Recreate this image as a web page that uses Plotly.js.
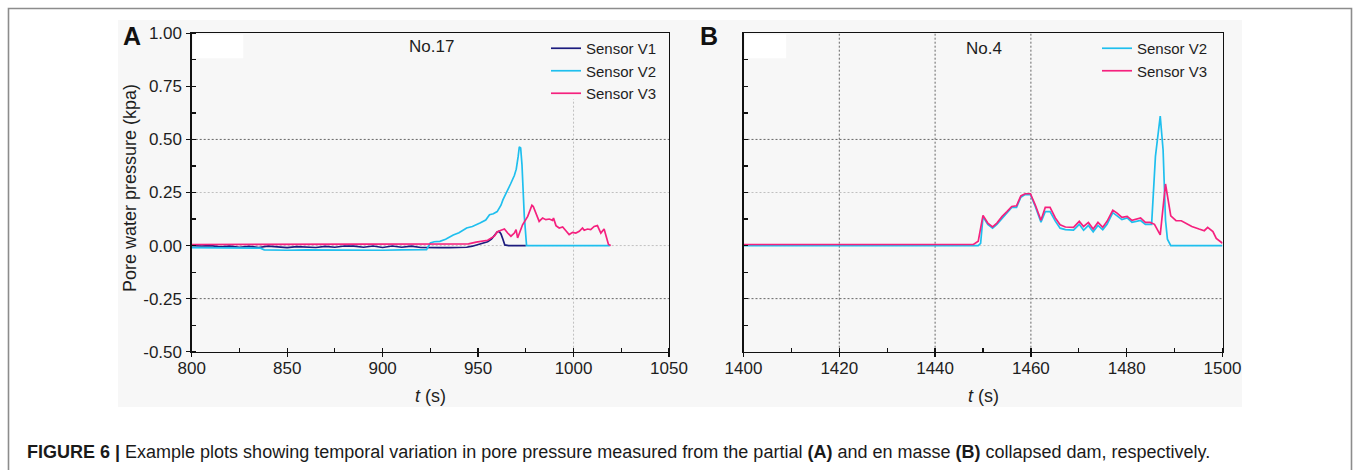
<!DOCTYPE html>
<html><head><meta charset="utf-8">
<script src="https://cdn.plot.ly/plotly-3.0.1.min.js"></script>
<style>html,body{margin:0;padding:0;background:#fff}#chart{width:1354px;height:470px}</style>
</head><body><div id="chart"></div>
<script>
// ---------- Panel A (No.17) ----------
const tA_V1 = [800,805,810,815,820,825,830,835,840,845,850,855,860,865,870,875,880,885,890,895,900,905,910,915,920,925,930,935,940,944,947,950,953,955,957,958.5,960,961,962,963,964,966,970,975];
const pA_V1 = [0,-0.002,0,-0.006,-0.003,-0.008,-0.004,-0.009,-0.003,-0.008,-0.01,-0.005,-0.008,-0.009,-0.004,-0.008,-0.002,-0.003,-0.008,-0.002,-0.009,-0.002,-0.008,-0.003,-0.009,-0.008,-0.01,-0.01,-0.01,-0.008,-0.003,0.005,0.012,0.018,0.03,0.045,0.064,0.067,0.055,0.03,0.003,0,0,0];

const tA_V2 = [800,810,820,830,836,838,850,860,870,880,890,900,910,920,923,925,927,930,933,937,940,944,947,951,954,956,958,960,962,963,965,967,969,970,971,971.6,972.3,973,974.2,975.4,980,990,1000,1010,1019];
const pA_V2 = [-0.01,-0.01,-0.011,-0.01,-0.012,-0.02,-0.022,-0.02,-0.021,-0.02,-0.022,-0.022,-0.02,-0.021,-0.019,0.012,0.018,0.02,0.03,0.05,0.06,0.083,0.09,0.106,0.12,0.145,0.15,0.16,0.19,0.215,0.25,0.29,0.33,0.36,0.42,0.465,0.46,0.38,0.14,0,0,0,0,0,0];

const tA_V3 = [800,850,900,940,945,949,952,955,958.5,960,962,963.8,965.5,967.2,969,969.9,970.7,972,973.3,976,978.2,978.9,980.3,982,983.8,985.5,987.3,989,989.5,990.8,992.5,994.3,996,997.7,999.5,1001.2,1003,1004.7,1005.6,1007.3,1009,1010.8,1012.5,1014.3,1016,1016.9,1018.3,1019.5];
const pA_V3 = [0.005,0.005,0.005,0.006,0.008,0.016,0.02,0.025,0.044,0.064,0.072,0.078,0.059,0.044,0.059,0.075,0.036,0.067,0.098,0.1375,0.19,0.184,0.153,0.114,0.13,0.122,0.125,0.119,0.13,0.094,0.083,0.0875,0.07,0.052,0.0625,0.059,0.067,0.083,0.072,0.078,0.075,0.09,0.094,0.059,0.078,0.044,0.005,0];

// ---------- Panel B (No.4) ----------
const tB_V2 = [1400,1449,1449.5,1450,1451,1452,1452.9,1454,1455,1456,1457,1457.9,1458.8,1459.9,1460.9,1462.1,1463,1464,1465.1,1466.1,1467.2,1468.9,1470.1,1471,1472,1473,1474,1475,1475.9,1477.1,1478,1479,1480.1,1481.1,1482.9,1483.9,1484.9,1485.2,1486,1487,1487.6,1488.1,1488.5,1489.2,1500];
const pB_V2 = [0,0,0.01,0.135,0.1,0.082,0.1,0.13,0.155,0.18,0.18,0.228,0.24,0.24,0.185,0.11,0.16,0.16,0.115,0.082,0.075,0.073,0.1,0.072,0.095,0.065,0.095,0.075,0.1,0.155,0.14,0.122,0.13,0.11,0.118,0.1,0.1,0.1,0.42,0.61,0.45,0.12,0.03,0,0];

const tB_V3 = [1400,1448,1449,1450,1451,1452,1452.9,1454,1455,1456,1457,1457.9,1458.8,1459.9,1460.9,1462.1,1463,1464,1465.1,1466.1,1467.2,1468.9,1470.1,1471,1472,1473,1474,1475,1475.9,1477.1,1478,1479,1480.1,1481.1,1482.9,1483.9,1484.9,1485.8,1487,1488.1,1489.2,1490.3,1491.4,1492.5,1493.6,1495.1,1496.2,1496.9,1498,1498.7,1499.5,1500];
const pB_V3 = [0.005,0.005,0.02,0.142,0.106,0.0875,0.106,0.1375,0.16,0.184,0.1875,0.234,0.244,0.244,0.192,0.119,0.18,0.18,0.13,0.098,0.0875,0.086,0.114,0.09,0.109,0.078,0.109,0.086,0.114,0.166,0.153,0.133,0.1375,0.119,0.13,0.109,0.109,0.1,0.05,0.29,0.14,0.117,0.117,0.105,0.09,0.078,0.07,0.086,0.066,0.034,0.019,0.011];

// ticks / labels
const xTicksA = [800,850,900,950,1000,1050];
const xTicksB = [1400,1420,1440,1460,1480,1500];
const yTicks = [-0.5,-0.25,0,0.25,0.5,0.75,1.0];
const yTickText = yTicks.map(v => v.toFixed(2));
const seriesNames = ['Sensor V1','Sensor V2','Sensor V3'];
const panelTitles = ['No.17','No.4'];

const C1 = '#1c1c7e', C2 = '#1fbfee', C3 = '#f5217e';
const FONT = 'Liberation Sans, Arial, Helvetica, sans-serif';
const W = 1354, H = 470;
const px = v => v / W, py = v => 1 - v / H;

const lw = 1.7;
const traces = [
  {x:tA_V1, y:pA_V1, name:seriesNames[0], line:{color:C1,width:lw}, xaxis:'x', yaxis:'y', legend:'legend'},
  {x:tA_V2, y:pA_V2, name:seriesNames[1], line:{color:C2,width:lw}, xaxis:'x', yaxis:'y', legend:'legend'},
  {x:tA_V3, y:pA_V3, name:seriesNames[2], line:{color:C3,width:lw}, xaxis:'x', yaxis:'y', legend:'legend'},
  {x:tB_V2, y:pB_V2, name:seriesNames[1], line:{color:C2,width:lw}, xaxis:'x2', yaxis:'y2', legend:'legend2'},
  {x:tB_V3, y:pB_V3, name:seriesNames[2], line:{color:C3,width:lw}, xaxis:'x2', yaxis:'y2', legend:'legend2'}
].map(t => Object.assign({type:'scatter', mode:'lines', hoverinfo:'skip'}, t));

const tickFont = {family:FONT, size:17, color:'#1e1e1e'};
const axisCommon = {showline:true, mirror:true, linecolor:'#111', linewidth:1.3, showgrid:false, zeroline:false,
  tickcolor:'#111', tickwidth:1.2, ticklen:4, tickfont:tickFont, fixedrange:true};

const domY = [py(351.7), py(33.3)];
const legFont = {family:FONT, size:15, color:'#1e1e1e'};
const layout = {
  width:W, height:H, margin:{l:0,r:0,t:0,b:0}, paper_bgcolor:'#ffffff', plot_bgcolor:'#fbfbfb',
  showlegend:true, font:{family:FONT, color:'#222', size:15},
  xaxis: Object.assign({}, axisCommon, {domain:[px(191.7), px(669)], range:[800,1050], anchor:'y',
    tickmode:'array', tickvals:xTicksA, ticks:'outside', ticklabelstandoff:-3,
    minor:{dtick:25, tick0:800, ticks:'inside', ticklen:4, tickwidth:1.2, tickcolor:'#111', showgrid:false}}),
  yaxis: Object.assign({}, axisCommon, {domain:domY, range:[-0.5,1.0], anchor:'x',
    tickmode:'array', tickvals:yTicks, ticktext:yTickText, ticks:'outside', ticklabelstandoff:1,
    minor:{dtick:0.125, tick0:0, ticks:'inside', ticklen:4, tickwidth:1.2, tickcolor:'#111', showgrid:false}}),
  xaxis2: Object.assign({}, axisCommon, {domain:[px(743.5), px(1222.5)], range:[1400,1500], anchor:'y2',
    tickmode:'array', tickvals:xTicksB, ticks:'outside', ticklabelstandoff:-3,
    minor:{dtick:10, tick0:1400, ticks:'inside', ticklen:4, tickwidth:1.2, tickcolor:'#111', showgrid:false}}),
  yaxis2: Object.assign({}, axisCommon, {domain:domY, range:[-0.5,1.0], anchor:'x2',
    tickmode:'array', tickvals:yTicks, ticks:'inside', showticklabels:false,
    minor:{dtick:0.125, tick0:0, ticks:'inside', ticklen:4, tickwidth:1.2, tickcolor:'#111', showgrid:false}}),
  legend: {x:px(546), xanchor:'left', y:py(32), yanchor:'top', bgcolor:'rgba(0,0,0,0)', borderwidth:0,
    font:legFont, tracegroupgap:0, itemwidth:30, traceorder:'normal'},
  legend2: {x:px(1097), xanchor:'left', y:py(32), yanchor:'top', bgcolor:'rgba(0,0,0,0)', borderwidth:0,
    font:legFont, tracegroupgap:0, itemwidth:30, traceorder:'normal'},
  shapes: [],
  annotations: []
};

// figure background & outer frame
layout.shapes.push({type:'rect', xref:'paper', yref:'paper', x0:px(118), x1:px(1242), y0:py(407), y1:py(20),
  fillcolor:'#f7f7f7', line:{width:0}, layer:'below'});
layout.shapes.push({type:'rect', xref:'paper', yref:'paper', x0:px(8.5), x1:px(1351.5), y0:-0.1, y1:py(8.5),
  fillcolor:'rgba(0,0,0,0)', line:{color:'#8c8c8c', width:1.6}, layer:'above'});
// white label boxes
layout.shapes.push({type:'rect', xref:'x domain', yref:'y domain', x0:0.003, x1:0.108, y0:0.922, y1:0.996, fillcolor:'#ffffff', line:{width:0}, layer:'below'});
layout.shapes.push({type:'rect', xref:'x2 domain', yref:'y2 domain', x0:0.003, x1:0.089, y0:0.922, y1:0.996, fillcolor:'#ffffff', line:{width:0}, layer:'below'});

// gridlines (dotted)
const DARK = '#666666', LIGHT = '#c0c0c0', DOT = '2px,2px';
const hGrid = (xr, yr, x0, x1, v, col) => ({type:'line', xref:xr, yref:yr, x0:x0, x1:x1, y0:v, y1:v, line:{color:col, width:1, dash:DOT}, layer:'below'});
const vGrid = (xr, yr, v, y0, y1, col) => ({type:'line', xref:xr, yref:yr, x0:v, x1:v, y0:y0, y1:y1, line:{color:col, width:1, dash:DOT}, layer:'below'});
[0.5, -0.25].forEach(v => { layout.shapes.push(hGrid('x','y',800,1050,v,DARK)); layout.shapes.push(hGrid('x2','y2',1400,1500,v,DARK)); });
[0.25, 0].forEach(v => { layout.shapes.push(hGrid('x','y',800,1050,v,LIGHT)); layout.shapes.push(hGrid('x2','y2',1400,1500,v,LIGHT)); });
layout.shapes.push(vGrid('x','y',1000,-0.5,0.69,LIGHT));
[1420,1440,1460].forEach(v => layout.shapes.push(vGrid('x2','y2',v,-0.5,1.0,DARK)));

// annotations
const ann = (x, y, text, opts) => Object.assign({xref:'paper', yref:'paper', x:px(x), y:py(y), text:text, showarrow:false,
  font:{family:FONT, size:17, color:'#1e1e1e'}, xanchor:'center', yanchor:'middle'}, opts || {});
layout.annotations.push(ann(132, 36, '<b>A</b>', {font:{family:FONT, size:25, color:'#111'}}));
layout.annotations.push(ann(709, 36, '<b>B</b>', {font:{family:FONT, size:25, color:'#111'}}));
layout.annotations.push(ann(431, 47, panelTitles[0]));
layout.annotations.push(ann(984, 48, panelTitles[1]));
layout.annotations.push(ann(130, 188, 'Pore water pressure (kpa)', {textangle:-90, font:{family:FONT, size:18, color:'#1e1e1e'}}));
layout.annotations.push(ann(430, 396, '<i>t</i> (s)', {font:{family:FONT, size:18, color:'#1e1e1e'}}));
layout.annotations.push(ann(983, 396, '<i>t</i> (s)', {font:{family:FONT, size:18, color:'#1e1e1e'}}));
layout.annotations.push(ann(25, 452, '<b>FIGURE 6 |</b> Example plots showing temporal variation in pore pressure measured from the partial <b>(A)</b> and en masse <b>(B)</b> collapsed dam, respectively.',
  {xanchor:'left', font:{family:FONT, size:18, color:'#1a1a1a'}}));

Plotly.newPlot('chart', traces, layout, {staticPlot:true, displayModeBar:false});
</script>
</body></html>
